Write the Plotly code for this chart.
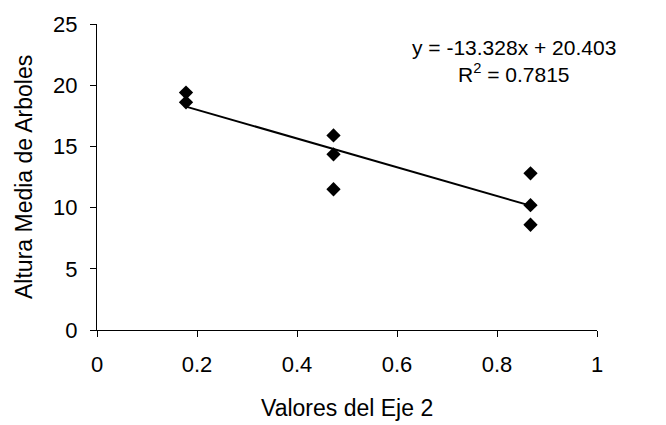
import numpy as np
import plotly.graph_objects as go

# Data
x_vals = [0.178, 0.178, 0.473, 0.473, 0.473, 0.867, 0.867, 0.867]
y_vals = [19.4, 18.6, 15.9, 14.35, 11.5, 12.8, 10.2, 8.6]
eq_text = "y = -13.328x + 20.403"
r2_text = "R<sup>2</sup> = 0.7815"
x_title = "Valores del Eje 2"
y_title = "Altura Media de Arboles"
x_ticks = [0, 0.2, 0.4, 0.6, 0.8, 1]
y_ticks = [0, 5, 10, 15, 20, 25]

# linear trend line fitted to the points
slope, intercept = np.polyfit(x_vals, y_vals, 1)
trend_x = [min(x_vals), max(x_vals)]
trend_y = [slope * v + intercept for v in trend_x]

font = "Liberation Sans, Arial, sans-serif"

fig = go.Figure()
fig.add_trace(go.Scatter(x=trend_x, y=trend_y, mode="lines",
                         line=dict(color="black", width=2), hoverinfo="skip"))
fig.add_trace(go.Scatter(x=x_vals, y=y_vals, mode="markers",
                         marker=dict(symbol="diamond", size=11, color="black")))

fig.add_annotation(x=0.834, y=23.1, xref="x", yref="y", text=eq_text,
                   showarrow=False, font=dict(family=font, size=21, color="black"))
fig.add_annotation(x=0.834, y=21.0, xref="x", yref="y", text=r2_text,
                   showarrow=False, font=dict(family=font, size=21, color="black"))

# axis titles
fig.add_annotation(x=0.5, y=(330 - 408) / 306, xref="paper", yref="paper",
                   text=x_title, showarrow=False, yanchor="middle",
                   font=dict(family=font, size=23, color="black"))
fig.add_annotation(x=(24 - 97) / 500, y=0.5, xref="paper", yref="paper",
                   text=y_title, showarrow=False, textangle=-90, xanchor="center",
                   font=dict(family=font, size=23, color="black"))

fig.update_layout(
    width=666, height=425,
    margin=dict(l=97, r=69, t=24, b=95),
    paper_bgcolor="white", plot_bgcolor="white",
    showlegend=False,
    font=dict(family=font, size=22, color="black"),
    xaxis=dict(range=[0, 1], tickvals=x_ticks, ticktext=[str(v) for v in x_ticks],
               showgrid=False, zeroline=False, showline=True, linecolor="black",
               linewidth=1.2, ticks="outside", ticklen=6, tickcolor="black",
               tickfont=dict(size=22), ticklabelstandoff=8),
    yaxis=dict(range=[0, 25], tickvals=y_ticks,
               showgrid=False, zeroline=False, showline=True, linecolor="black",
               linewidth=1.2, ticks="outside", ticklen=6, tickcolor="black",
               tickfont=dict(size=22), ticklabelstandoff=8),
)

fig.write_html("out.html")
